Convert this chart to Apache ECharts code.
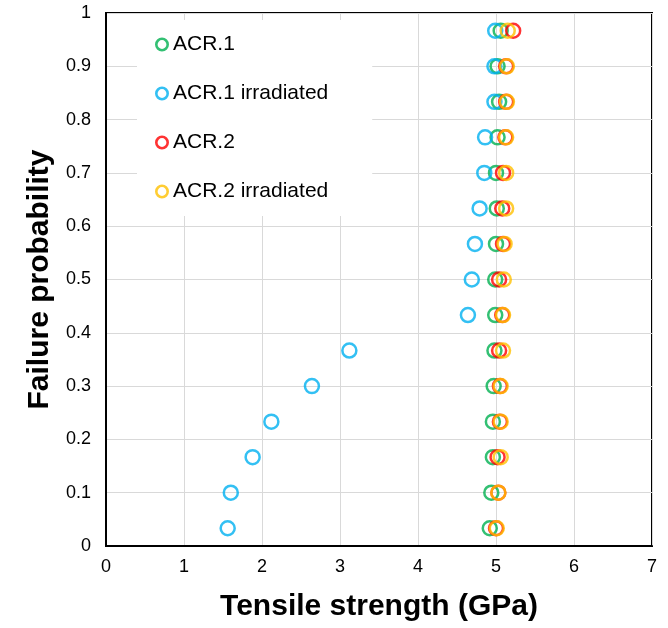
<!DOCTYPE html>
<html>
<head>
<meta charset="utf-8">
<script src="https://cdn.jsdelivr.net/npm/echarts@6/dist/echarts.min.js"></script>
<style>
  html, body { margin: 0; padding: 0; background: #fff; }
  #main { width: 668px; height: 628px; }
</style>
</head>
<body>
<div id="main"></div>
<script>
// failure probability (same 15 ranks for every series)
var prob = [0.0333, 0.1, 0.1667, 0.2333, 0.3, 0.3667, 0.4333, 0.5, 0.5667, 0.6333, 0.7, 0.7667, 0.8333, 0.9, 0.9667];

// tensile strength, GPa
var acr1 = [4.92, 4.94, 4.96, 4.96, 4.97, 4.98, 4.99, 4.99, 5.0, 5.01, 5.0, 5.02, 5.04, 5.02, 5.06];
var acr1Irr = [1.56, 1.6, 1.88, 2.12, 2.64, 3.12, 4.64, 4.69, 4.73, 4.79, 4.85, 4.86, 4.98, 4.98, 4.99];
var acr2 = [5.0, 5.03, 5.02, 5.05, 5.05, 5.04, 5.08, 5.04, 5.09, 5.08, 5.09, 5.12, 5.13, 5.13, 5.22];
var acr2Irr = [5.01, 5.03, 5.06, 5.06, 5.06, 5.09, 5.09, 5.1, 5.11, 5.13, 5.13, 5.13, 5.14, 5.14, 5.15];

var names = ['ACR.1', 'ACR.1 irradiated', 'ACR.2', 'ACR.2 irradiated'];
var colors = ['#00B050', '#00B0F0', '#FF0000', '#FFC000'];
var xs = [acr1, acr1Irr, acr2, acr2Irr];

var font = '"Liberation Sans", Arial, sans-serif';
// open ring for legend icons
var ring = 'path://M7,0 A7,7 0 1,1 6.99,0 Z M7,2.6 A4.4,4.4 0 1,0 7.01,2.6 Z';

var series = [], legendData = [];
for (var i = 0; i < xs.length; i++) {
  var pts = [];
  for (var j = 0; j < prob.length; j++) pts.push([xs[i][j], prob[j]]);
  series.push({
    name: names[i],
    type: 'scatter',
    symbol: 'circle',
    symbolSize: 14,
    itemStyle: { color: 'rgba(255,255,255,0)', borderColor: colors[i], borderWidth: 2.5 },
    data: pts
  });
  legendData.push({
    name: names[i],
    icon: ring,
    itemStyle: { color: colors[i], borderWidth: 0 }
  });
}

var chart = echarts.init(document.getElementById('main'));
chart.setOption({
  animation: false,
  grid: {
    left: 106, right: 16, top: 13, bottom: 82,
    show: true, borderColor: '#000', borderWidth: 2
  },
  legend: {
    orient: 'vertical',
    left: 137, top: 20,
    padding: [14, 44, 14, 18],
    itemGap: 28,
    itemWidth: 14, itemHeight: 14,
    backgroundColor: '#fff',
    textStyle: { fontFamily: font, fontSize: 21, color: '#000', padding: [0, 0, 0, -1] },
    data: legendData
  },
  xAxis: {
    type: 'value', min: 0, max: 7, interval: 1,
    name: 'Tensile strength (GPa)',
    nameLocation: 'middle', nameGap: 46,
    nameTextStyle: { fontFamily: font, fontSize: 30, fontWeight: 'bold', color: '#000' },
    axisLine: { show: true, lineStyle: { color: '#000', width: 2 } },
    axisTick: { show: false },
    axisLabel: { fontFamily: font, fontSize: 18, color: '#000', margin: 12 },
    splitLine: { lineStyle: { color: '#d9d9d9', width: 1 } }
  },
  yAxis: {
    type: 'value', min: 0, max: 1, interval: 0.1,
    name: 'Failure probability',
    nameLocation: 'middle', nameGap: 50,
    nameTextStyle: { fontFamily: font, fontSize: 30, fontWeight: 'bold', color: '#000' },
    axisLine: { show: true, lineStyle: { color: '#000', width: 2 } },
    axisTick: { show: false },
    axisLabel: { fontFamily: font, fontSize: 18, color: '#000', margin: 15 },
    splitLine: { lineStyle: { color: '#d9d9d9', width: 1 } }
  },
  series: series
});
</script>
</body>
</html>
